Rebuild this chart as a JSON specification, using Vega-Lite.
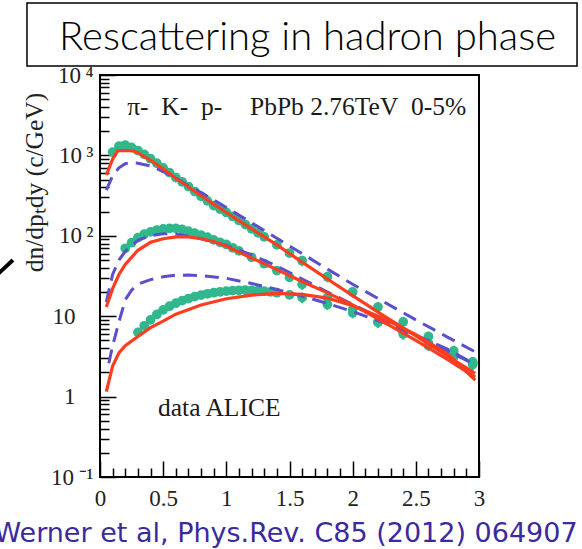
{
  "$schema": "https://vega.github.io/schema/vega-lite/v6.json",
  "width": 379,
  "height": 402,
  "autosize": {"type": "none"},
  "padding": {"left": 100, "top": 75, "right": 103, "bottom": 72},
  "background": "white",
  "config": {
    "view": {"stroke": "black", "strokeWidth": 2},
    "axis": {"domain": false, "grid": false}
  },
  "datasets": {
    "curves": [
      {"species": "pi", "model": "cascade", "x": 0.05, "y": 570},
      {"species": "pi", "model": "cascade", "x": 0.1, "y": 900},
      {"species": "pi", "model": "cascade", "x": 0.14, "y": 1140},
      {"species": "pi", "model": "cascade", "x": 0.2, "y": 1150},
      {"species": "pi", "model": "cascade", "x": 0.26, "y": 1135},
      {"species": "pi", "model": "cascade", "x": 0.3, "y": 1080},
      {"species": "pi", "model": "cascade", "x": 0.4, "y": 870},
      {"species": "pi", "model": "cascade", "x": 0.5, "y": 680},
      {"species": "pi", "model": "cascade", "x": 0.6, "y": 520},
      {"species": "pi", "model": "cascade", "x": 0.7, "y": 405},
      {"species": "pi", "model": "cascade", "x": 0.8, "y": 315},
      {"species": "pi", "model": "cascade", "x": 0.9, "y": 248},
      {"species": "pi", "model": "cascade", "x": 1.0, "y": 195},
      {"species": "pi", "model": "cascade", "x": 1.2, "y": 122},
      {"species": "pi", "model": "cascade", "x": 1.4, "y": 77},
      {"species": "pi", "model": "cascade", "x": 1.6, "y": 47},
      {"species": "pi", "model": "cascade", "x": 1.8, "y": 29},
      {"species": "pi", "model": "cascade", "x": 2.0, "y": 18},
      {"species": "pi", "model": "cascade", "x": 2.25, "y": 10},
      {"species": "pi", "model": "cascade", "x": 2.5, "y": 5.7},
      {"species": "pi", "model": "cascade", "x": 2.75, "y": 3.2},
      {"species": "pi", "model": "cascade", "x": 2.97, "y": 1.95},
      {"species": "pi", "model": "nocascade", "x": 0.05, "y": 370},
      {"species": "pi", "model": "nocascade", "x": 0.1, "y": 560},
      {"species": "pi", "model": "nocascade", "x": 0.15, "y": 700},
      {"species": "pi", "model": "nocascade", "x": 0.2, "y": 790},
      {"species": "pi", "model": "nocascade", "x": 0.25, "y": 810},
      {"species": "pi", "model": "nocascade", "x": 0.3, "y": 800},
      {"species": "pi", "model": "nocascade", "x": 0.4, "y": 740},
      {"species": "pi", "model": "nocascade", "x": 0.5, "y": 630},
      {"species": "pi", "model": "nocascade", "x": 0.6, "y": 520},
      {"species": "pi", "model": "nocascade", "x": 0.7, "y": 420},
      {"species": "pi", "model": "nocascade", "x": 0.8, "y": 345},
      {"species": "pi", "model": "nocascade", "x": 0.9, "y": 280},
      {"species": "pi", "model": "nocascade", "x": 1.0, "y": 225},
      {"species": "pi", "model": "nocascade", "x": 1.2, "y": 145},
      {"species": "pi", "model": "nocascade", "x": 1.4, "y": 93},
      {"species": "pi", "model": "nocascade", "x": 1.6, "y": 60},
      {"species": "pi", "model": "nocascade", "x": 1.8, "y": 38.5},
      {"species": "pi", "model": "nocascade", "x": 2.0, "y": 25},
      {"species": "pi", "model": "nocascade", "x": 2.25, "y": 15},
      {"species": "pi", "model": "nocascade", "x": 2.5, "y": 9},
      {"species": "pi", "model": "nocascade", "x": 2.75, "y": 5.5},
      {"species": "pi", "model": "nocascade", "x": 2.97, "y": 3.6},
      {"species": "K", "model": "cascade", "x": 0.05, "y": 13},
      {"species": "K", "model": "cascade", "x": 0.1, "y": 22},
      {"species": "K", "model": "cascade", "x": 0.15, "y": 33},
      {"species": "K", "model": "cascade", "x": 0.2, "y": 44},
      {"species": "K", "model": "cascade", "x": 0.3, "y": 66},
      {"species": "K", "model": "cascade", "x": 0.4, "y": 83},
      {"species": "K", "model": "cascade", "x": 0.5, "y": 92},
      {"species": "K", "model": "cascade", "x": 0.6, "y": 97},
      {"species": "K", "model": "cascade", "x": 0.7, "y": 97},
      {"species": "K", "model": "cascade", "x": 0.8, "y": 92},
      {"species": "K", "model": "cascade", "x": 0.9, "y": 85},
      {"species": "K", "model": "cascade", "x": 1.0, "y": 74},
      {"species": "K", "model": "cascade", "x": 1.2, "y": 53},
      {"species": "K", "model": "cascade", "x": 1.4, "y": 38},
      {"species": "K", "model": "cascade", "x": 1.6, "y": 27},
      {"species": "K", "model": "cascade", "x": 1.8, "y": 19.5},
      {"species": "K", "model": "cascade", "x": 2.0, "y": 13.8},
      {"species": "K", "model": "cascade", "x": 2.25, "y": 8.4},
      {"species": "K", "model": "cascade", "x": 2.5, "y": 5.0},
      {"species": "K", "model": "cascade", "x": 2.75, "y": 2.9},
      {"species": "K", "model": "cascade", "x": 2.97, "y": 1.75},
      {"species": "K", "model": "nocascade", "x": 0.05, "y": 15},
      {"species": "K", "model": "nocascade", "x": 0.1, "y": 33},
      {"species": "K", "model": "nocascade", "x": 0.15, "y": 50},
      {"species": "K", "model": "nocascade", "x": 0.2, "y": 64},
      {"species": "K", "model": "nocascade", "x": 0.3, "y": 88},
      {"species": "K", "model": "nocascade", "x": 0.4, "y": 100},
      {"species": "K", "model": "nocascade", "x": 0.5, "y": 106},
      {"species": "K", "model": "nocascade", "x": 0.6, "y": 105},
      {"species": "K", "model": "nocascade", "x": 0.7, "y": 99},
      {"species": "K", "model": "nocascade", "x": 0.8, "y": 92},
      {"species": "K", "model": "nocascade", "x": 0.9, "y": 84},
      {"species": "K", "model": "nocascade", "x": 1.0, "y": 76},
      {"species": "K", "model": "nocascade", "x": 1.2, "y": 58},
      {"species": "K", "model": "nocascade", "x": 1.4, "y": 42},
      {"species": "K", "model": "nocascade", "x": 1.6, "y": 29},
      {"species": "K", "model": "nocascade", "x": 1.8, "y": 20},
      {"species": "K", "model": "nocascade", "x": 2.0, "y": 14},
      {"species": "K", "model": "nocascade", "x": 2.25, "y": 9},
      {"species": "K", "model": "nocascade", "x": 2.5, "y": 5.8},
      {"species": "K", "model": "nocascade", "x": 2.75, "y": 3.7},
      {"species": "K", "model": "nocascade", "x": 2.97, "y": 2.5},
      {"species": "p", "model": "cascade", "x": 0.05, "y": 1.15},
      {"species": "p", "model": "cascade", "x": 0.1, "y": 2.4},
      {"species": "p", "model": "cascade", "x": 0.15, "y": 3.5},
      {"species": "p", "model": "cascade", "x": 0.2, "y": 4.3},
      {"species": "p", "model": "cascade", "x": 0.3, "y": 5.6},
      {"species": "p", "model": "cascade", "x": 0.4, "y": 7.2},
      {"species": "p", "model": "cascade", "x": 0.5, "y": 8.7},
      {"species": "p", "model": "cascade", "x": 0.6, "y": 10.6},
      {"species": "p", "model": "cascade", "x": 0.8, "y": 13.8},
      {"species": "p", "model": "cascade", "x": 1.0, "y": 16.5},
      {"species": "p", "model": "cascade", "x": 1.2, "y": 18.3},
      {"species": "p", "model": "cascade", "x": 1.4, "y": 19.2},
      {"species": "p", "model": "cascade", "x": 1.6, "y": 18.7},
      {"species": "p", "model": "cascade", "x": 1.8, "y": 16.8},
      {"species": "p", "model": "cascade", "x": 2.0, "y": 13.5},
      {"species": "p", "model": "cascade", "x": 2.25, "y": 9.3},
      {"species": "p", "model": "cascade", "x": 2.5, "y": 5.9},
      {"species": "p", "model": "cascade", "x": 2.75, "y": 3.4},
      {"species": "p", "model": "cascade", "x": 2.97, "y": 1.6},
      {"species": "p", "model": "nocascade", "x": 0.07, "y": 2.6},
      {"species": "p", "model": "nocascade", "x": 0.1, "y": 4.3},
      {"species": "p", "model": "nocascade", "x": 0.15, "y": 8.5},
      {"species": "p", "model": "nocascade", "x": 0.2, "y": 16},
      {"species": "p", "model": "nocascade", "x": 0.25, "y": 21},
      {"species": "p", "model": "nocascade", "x": 0.3, "y": 25},
      {"species": "p", "model": "nocascade", "x": 0.4, "y": 28.5},
      {"species": "p", "model": "nocascade", "x": 0.5, "y": 31},
      {"species": "p", "model": "nocascade", "x": 0.6, "y": 32.3},
      {"species": "p", "model": "nocascade", "x": 0.7, "y": 32.5},
      {"species": "p", "model": "nocascade", "x": 0.8, "y": 32},
      {"species": "p", "model": "nocascade", "x": 1.0, "y": 29.6},
      {"species": "p", "model": "nocascade", "x": 1.2, "y": 25.5},
      {"species": "p", "model": "nocascade", "x": 1.4, "y": 21.5},
      {"species": "p", "model": "nocascade", "x": 1.6, "y": 17.8},
      {"species": "p", "model": "nocascade", "x": 1.8, "y": 14.4},
      {"species": "p", "model": "nocascade", "x": 2.0, "y": 11.4},
      {"species": "p", "model": "nocascade", "x": 2.25, "y": 8.3},
      {"species": "p", "model": "nocascade", "x": 2.5, "y": 5.8},
      {"species": "p", "model": "nocascade", "x": 2.75, "y": 3.9},
      {"species": "p", "model": "nocascade", "x": 2.97, "y": 2.5}
    ],
    "points": [
      {"species": "pi", "x": 0.1, "y": 1100},
      {"species": "pi", "x": 0.15, "y": 1300},
      {"species": "pi", "x": 0.2, "y": 1340},
      {"species": "pi", "x": 0.25, "y": 1260},
      {"species": "pi", "x": 0.3, "y": 1150},
      {"species": "pi", "x": 0.35, "y": 1030},
      {"species": "pi", "x": 0.4, "y": 910},
      {"species": "pi", "x": 0.45, "y": 800},
      {"species": "pi", "x": 0.5, "y": 700},
      {"species": "pi", "x": 0.55, "y": 610},
      {"species": "pi", "x": 0.6, "y": 530},
      {"species": "pi", "x": 0.65, "y": 470},
      {"species": "pi", "x": 0.7, "y": 410},
      {"species": "pi", "x": 0.75, "y": 355},
      {"species": "pi", "x": 0.8, "y": 310},
      {"species": "pi", "x": 0.85, "y": 272},
      {"species": "pi", "x": 0.9, "y": 238},
      {"species": "pi", "x": 0.95, "y": 215},
      {"species": "pi", "x": 1.0, "y": 195},
      {"species": "pi", "x": 1.05, "y": 174},
      {"species": "pi", "x": 1.1, "y": 155},
      {"species": "pi", "x": 1.15, "y": 138},
      {"species": "pi", "x": 1.2, "y": 122},
      {"species": "pi", "x": 1.25, "y": 109},
      {"species": "pi", "x": 1.3, "y": 97},
      {"species": "pi", "x": 1.4, "y": 77},
      {"species": "pi", "x": 1.5, "y": 61},
      {"species": "pi", "x": 1.6, "y": 49, "lo": 41.7, "hi": 56.4},
      {"species": "pi", "x": 1.8, "y": 31, "lo": 26.4, "hi": 35.7},
      {"species": "pi", "x": 2.0, "y": 20, "lo": 17, "hi": 23},
      {"species": "pi", "x": 2.2, "y": 13, "lo": 11, "hi": 15},
      {"species": "pi", "x": 2.4, "y": 8.5, "lo": 7.2, "hi": 9.8},
      {"species": "pi", "x": 2.6, "y": 5.6, "lo": 4.8, "hi": 6.4},
      {"species": "pi", "x": 2.8, "y": 3.7, "lo": 3.1, "hi": 4.3},
      {"species": "pi", "x": 2.95, "y": 2.7, "lo": 2.3, "hi": 3.1},
      {"species": "K", "x": 0.2, "y": 70},
      {"species": "K", "x": 0.25, "y": 82},
      {"species": "K", "x": 0.3, "y": 95},
      {"species": "K", "x": 0.35, "y": 105},
      {"species": "K", "x": 0.4, "y": 112},
      {"species": "K", "x": 0.45, "y": 118},
      {"species": "K", "x": 0.5, "y": 122},
      {"species": "K", "x": 0.55, "y": 124},
      {"species": "K", "x": 0.6, "y": 124},
      {"species": "K", "x": 0.65, "y": 120},
      {"species": "K", "x": 0.7, "y": 114},
      {"species": "K", "x": 0.75, "y": 108},
      {"species": "K", "x": 0.8, "y": 102},
      {"species": "K", "x": 0.85, "y": 96},
      {"species": "K", "x": 0.9, "y": 89},
      {"species": "K", "x": 0.95, "y": 83},
      {"species": "K", "x": 1.0, "y": 78},
      {"species": "K", "x": 1.05, "y": 71},
      {"species": "K", "x": 1.1, "y": 65},
      {"species": "K", "x": 1.2, "y": 54},
      {"species": "K", "x": 1.3, "y": 45},
      {"species": "K", "x": 1.4, "y": 37},
      {"species": "K", "x": 1.5, "y": 30.5},
      {"species": "K", "x": 1.6, "y": 25, "lo": 21.3, "hi": 28.8},
      {"species": "K", "x": 1.8, "y": 17, "lo": 14.5, "hi": 19.6},
      {"species": "K", "x": 2.0, "y": 12, "lo": 10.2, "hi": 13.8},
      {"species": "K", "x": 2.2, "y": 8.5, "lo": 7.2, "hi": 9.8},
      {"species": "K", "x": 2.4, "y": 6, "lo": 5.1, "hi": 6.9},
      {"species": "K", "x": 2.6, "y": 4.3, "lo": 3.7, "hi": 4.9},
      {"species": "K", "x": 2.8, "y": 3.1, "lo": 2.6, "hi": 3.6},
      {"species": "K", "x": 2.95, "y": 2.5, "lo": 2.1, "hi": 2.9},
      {"species": "p", "x": 0.3, "y": 6.3},
      {"species": "p", "x": 0.35, "y": 7.6},
      {"species": "p", "x": 0.4, "y": 9.0},
      {"species": "p", "x": 0.45, "y": 10.5},
      {"species": "p", "x": 0.5, "y": 12},
      {"species": "p", "x": 0.55, "y": 13.3},
      {"species": "p", "x": 0.6, "y": 14.5},
      {"species": "p", "x": 0.65, "y": 15.6},
      {"species": "p", "x": 0.7, "y": 16.6},
      {"species": "p", "x": 0.75, "y": 17.5},
      {"species": "p", "x": 0.8, "y": 18.3},
      {"species": "p", "x": 0.85, "y": 19.0},
      {"species": "p", "x": 0.9, "y": 19.6},
      {"species": "p", "x": 0.95, "y": 20.1},
      {"species": "p", "x": 1.0, "y": 20.5},
      {"species": "p", "x": 1.05, "y": 20.8},
      {"species": "p", "x": 1.1, "y": 21},
      {"species": "p", "x": 1.15, "y": 21.1},
      {"species": "p", "x": 1.2, "y": 21},
      {"species": "p", "x": 1.25, "y": 20.8},
      {"species": "p", "x": 1.3, "y": 20.5},
      {"species": "p", "x": 1.35, "y": 20.1},
      {"species": "p", "x": 1.4, "y": 19.6},
      {"species": "p", "x": 1.5, "y": 18.4},
      {"species": "p", "x": 1.6, "y": 17, "lo": 14.5, "hi": 19.6},
      {"species": "p", "x": 1.8, "y": 14, "lo": 11.9, "hi": 16.1},
      {"species": "p", "x": 2.0, "y": 11, "lo": 9.4, "hi": 12.7},
      {"species": "p", "x": 2.2, "y": 8.4, "lo": 7.1, "hi": 9.7},
      {"species": "p", "x": 2.4, "y": 6.3, "lo": 5.4, "hi": 7.2},
      {"species": "p", "x": 2.6, "y": 4.6, "lo": 3.9, "hi": 5.3},
      {"species": "p", "x": 2.8, "y": 3.3, "lo": 2.8, "hi": 3.8},
      {"species": "p", "x": 2.95, "y": 2.6, "lo": 2.2, "hi": 3.0}
    ],
    "notes": [
      {"label": "π-\u00a0 K-\u00a0 p-", "x": 0.215, "y": 3180},
      {"label": "PbPb 2.76TeV\u00a0 0-5%", "x": 1.187, "y": 3180},
      {"label": "data ALICE", "x": 0.459, "y": 0.574}
    ],
    "heading": [
      {"label": "Rescattering in hadron phase", "x": 1.6425, "y": 20470}
    ],
    "box": [
      {"x": -0.578, "x2": 3.776, "y": 12940, "y2": 78700}
    ],
    "arrow": [
      {"x": -0.85, "y": 29, "x2": -0.689, "y2": 50}
    ]
  },
  "encoding": {
    "x": {
      "field": "x",
      "type": "quantitative",
      "scale": {"domain": [0, 3], "nice": false, "zero": false},
      "axis": {
        "values": [0, 0.1, 0.2, 0.3, 0.4, 0.5, 0.6, 0.7, 0.8, 0.9, 1, 1.1, 1.2, 1.3, 1.4, 1.5, 1.6, 1.7, 1.8, 1.9, 2, 2.1, 2.2, 2.3, 2.4, 2.5, 2.6, 2.7, 2.8, 2.9, 3],
        "format": "~g",
        "labelExpr": "abs(datum.value*2 - round(datum.value*2)) < 0.000001 ? datum.label : ''",
        "tickSize": {"condition": {"test": "abs(datum.value*2 - round(datum.value*2)) < 0.000001", "value": -16}, "value": -9},
        "tickColor": "black",
        "tickWidth": 1.5,
        "labelPadding": 26,
        "labelBaseline": "top",
        "labelFlush": false,
        "labelOverlap": false,
        "labelFont": "Liberation Serif",
        "labelFontSize": 23,
        "labelColor": "#222222",
        "title": "Werner et al, Phys.Rev. C85 (2012) 064907",
        "titleFont": "DejaVu Sans",
        "titleFontSize": 27,
        "titleFontWeight": "normal",
        "titleColor": "#3a2a9e",
        "titleX": 185.5,
        "titleY": 64,
        "titleAlign": "center",
        "titleBaseline": "alphabetic"
      }
    },
    "y": {
      "field": "y",
      "type": "quantitative",
      "scale": {"type": "log", "domain": [0.1, 10000], "nice": false},
      "axis": {
        "values": [0.1, 0.2, 0.3, 0.4, 0.5, 0.6, 0.7, 0.8, 0.9, 1, 2, 3, 4, 5, 6, 7, 8, 9, 10, 20, 30, 40, 50, 60, 70, 80, 90, 100, 200, 300, 400, 500, 600, 700, 800, 900, 1000, 2000, 3000, 4000, 5000, 6000, 7000, 8000, 9000, 10000],
        "labelExpr": "datum.value==10000 ? '10\u2009⁴' : datum.value==1000 ? '10\u2009³' : datum.value==100 ? '10\u2009²' : datum.value==10 ? '10' : datum.value==1 ? '1' : datum.value==0.1 ? '10\u2009⁻¹' : ''",
        "tickSize": {"condition": {"test": "datum.value==10000 || datum.value==1000 || datum.value==100 || datum.value==10 || datum.value==1 || datum.value==0.1", "value": -16}, "value": -9},
        "tickColor": "black",
        "tickWidth": 1.5,
        "labelPadding": {"condition": {"test": "datum.value==10 || datum.value==1", "value": 41}, "value": 23},
        "labelBaseline": "middle",
        "labelFlush": false,
        "labelOverlap": false,
        "labelFont": "Liberation Serif",
        "labelFontSize": 23,
        "labelColor": "#222222",
        "title": "dn/dpₜdy (c/GeV)",
        "titleFont": "Liberation Serif",
        "titleFontSize": 25.5,
        "titleFontWeight": "normal",
        "titleColor": "#222222",
        "titleX": -58,
        "titleY": 107,
        "titleAngle": -90,
        "titleAlign": "center",
        "titleBaseline": "alphabetic"
      }
    }
  },
  "layer": [
    {
      "data": {"name": "box"},
      "mark": {"type": "rect", "fill": "white", "stroke": "black", "strokeWidth": 1.5},
      "encoding": {
        "x2": {"field": "x2"},
        "y2": {"field": "y2"}
      }
    },
    {
      "data": {"name": "heading"},
      "mark": {"type": "text", "align": "center", "baseline": "alphabetic", "font": "Lato", "fontSize": 40, "fontWeight": 300, "color": "black"},
      "encoding": {"text": {"field": "label"}}
    },
    {
      "data": {"name": "arrow"},
      "mark": {"type": "rule", "color": "black", "strokeWidth": 4},
      "encoding": {
        "x2": {"field": "x2"},
        "y2": {"field": "y2"}
      }
    },
    {
      "data": {"name": "points"},
      "mark": {"type": "circle", "color": "#30b88c", "opacity": 1, "size": 95},
      "encoding": {}
    },
    {
      "data": {"name": "points"},
      "transform": [{"filter": "isValid(datum.lo)"}],
      "mark": {"type": "rule", "color": "#30b88c", "strokeWidth": 2},
      "encoding": {
        "y": {"field": "lo", "type": "quantitative", "scale": {"type": "log", "domain": [0.1, 10000], "nice": false}},
        "y2": {"field": "hi"}
      }
    },
    {
      "data": {"name": "curves"},
      "transform": [{"filter": "datum.model == 'nocascade'"}],
      "mark": {"type": "line", "color": "#5a4fcc", "strokeWidth": 3, "strokeDash": [14, 8]},
      "encoding": {"detail": {"field": "species"}}
    },
    {
      "data": {"name": "curves"},
      "transform": [{"filter": "datum.model == 'cascade'"}],
      "mark": {"type": "line", "color": "#fc3d20", "strokeWidth": 3.2},
      "encoding": {"detail": {"field": "species"}}
    },
    {
      "data": {"name": "notes"},
      "mark": {"type": "text", "align": "left", "baseline": "alphabetic", "font": "Liberation Serif", "fontSize": 25.5, "color": "#1a1a1a"},
      "encoding": {"text": {"field": "label"}}
    }
  ]
}
